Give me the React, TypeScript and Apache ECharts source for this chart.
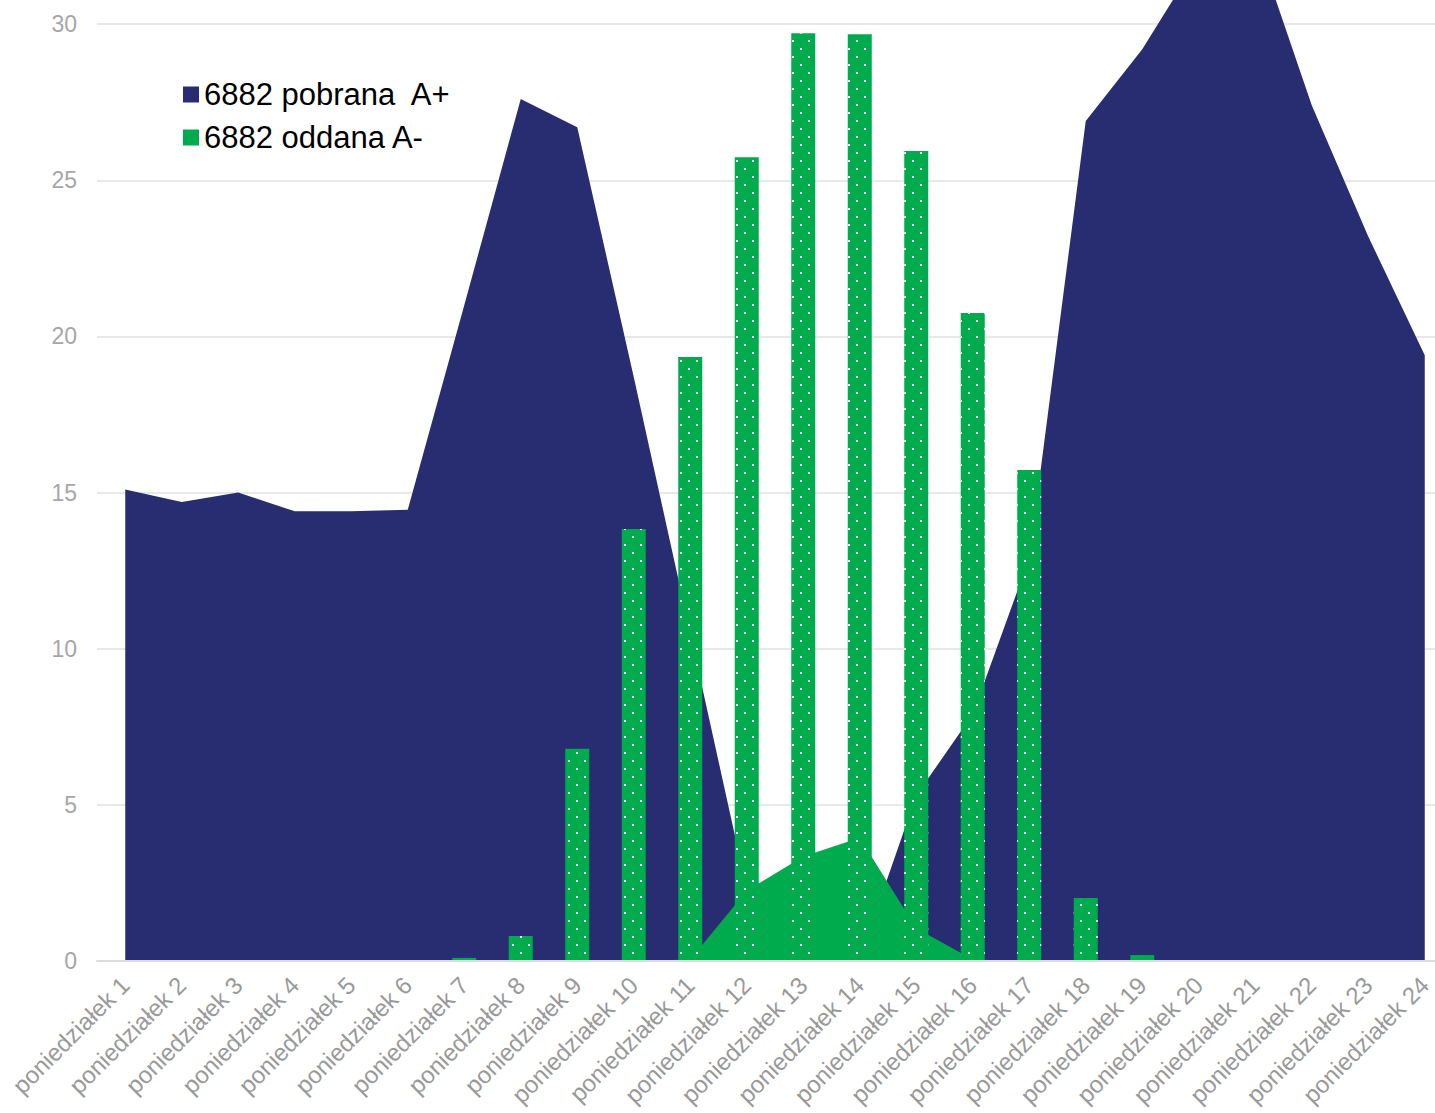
import React, { useEffect, useRef } from "react";
import * as echarts from "echarts";

// Hourly categories on the x axis
const hours = [
  "poniedziałek 1", "poniedziałek 2", "poniedziałek 3", "poniedziałek 4",
  "poniedziałek 5", "poniedziałek 6", "poniedziałek 7", "poniedziałek 8",
  "poniedziałek 9", "poniedziałek 10", "poniedziałek 11", "poniedziałek 12",
  "poniedziałek 13", "poniedziałek 14", "poniedziałek 15", "poniedziałek 16",
  "poniedziałek 17", "poniedziałek 18", "poniedziałek 19", "poniedziałek 20",
  "poniedziałek 21", "poniedziałek 22", "poniedziałek 23", "poniedziałek 24",
];

// Energy drawn from the grid (A+)
const pobrana = [
  15.1, 14.7, 15.0, 14.4, 14.4, 14.45, 21.0, 27.6, 26.7, 18.7, 10.5, 2.3,
  1.0, 0.1, 5.3, 7.9, 12.9, 26.9, 29.2, 32.1, 32.7, 27.4, 23.2, 19.4,
];

// Energy fed into the grid (A-), area form
const oddanaArea = [
  0, 0, 0, 0, 0, 0, 0, 0, 0, 0, 0.05, 2.25,
  3.35, 3.95, 1.05, 0.05, 0, 0, 0, 0, 0, 0, 0, 0,
];

// Energy fed into the grid (A-), hourly bars
const oddanaBars = [
  0, 0, 0, 0, 0, 0, 0.1, 0.8, 6.8, 13.83, 19.34, 25.74,
  29.71, 29.68, 25.94, 20.75, 15.72, 2.02, 0.19, 0.02, 0, 0, 0, 0,
];

const NAVY = "#282d72";
const GREEN = "#00ab4e";
const FONT = "'Liberation Sans', Arial, sans-serif";

export default function App() {
  const ref = useRef<HTMLDivElement | null>(null);

  useEffect(() => {
    if (!ref.current) return;
    const chart = echarts.init(ref.current, null, { renderer: "svg" });
    chart.setOption({
      animation: false,
      backgroundColor: "#ffffff",
      legend: {
        orient: "vertical",
        left: 178,
        top: 274,
        itemWidth: 16,
        itemHeight: 16,
        itemGap: 12,
        icon: "rect",
        data: ["6882 pobrana  A+", "6882 oddana A-"],
        textStyle: { color: "#000000", fontSize: 31, fontFamily: FONT },
      },
      grid: { left: 97, right: 47, top: 68, bottom: 152, containLabel: false },
      xAxis: {
        type: "category",
        data: hours,
        boundaryGap: true,
        z: 5,
        axisLine: { show: true, lineStyle: { color: "#dcdcdc", width: 2 } },
        axisTick: { show: false },
        axisLabel: {
          interval: 0,
          rotate: 45,
          margin: 20,
          color: "#999999",
          fontSize: 24,
          fontFamily: FONT,
        },
        splitLine: { show: false },
      },
      yAxis: {
        type: "value",
        min: 0,
        max: 35,
        interval: 5,
        axisLine: { show: false },
        axisTick: { show: false },
        axisLabel: {
          margin: 20,
          color: "#a6a6a6",
          fontSize: 23,
          fontFamily: FONT,
          formatter: (v: number) => (v > 30 ? "" : String(v)),
        },
        splitLine: { show: true, lineStyle: { color: "#e8e8e8", width: 2 } },
      },
      series: [
        {
          name: "6882 pobrana  A+",
          type: "line",
          z: 2,
          data: pobrana,
          showSymbol: false,
          symbol: "none",
          lineStyle: { width: 0, color: NAVY },
          itemStyle: { color: NAVY },
          areaStyle: { color: NAVY, opacity: 1 },
        },
        {
          name: "6882 oddana A-",
          type: "line",
          z: 3,
          data: oddanaArea,
          showSymbol: false,
          symbol: "none",
          lineStyle: { width: 0, color: GREEN },
          itemStyle: { color: GREEN },
          areaStyle: { color: GREEN, opacity: 1 },
        },
        {
          name: "oddana A- słupki",
          type: "bar",
          z: 4,
          data: oddanaBars,
          barWidth: 24,
          itemStyle: {
            color: GREEN,
            decal: {
              symbol: "rect",
              symbolSize: 1,
              color: "#ffffff",
              dashArrayX: [[2, 14], [0, 8, 2, 6]],
              dashArrayY: [2, 6],
              rotation: 0,
            },
          },
        },
      ],
    });
    return () => chart.dispose();
  }, []);

  return (
    <div
      style={{
        position: "fixed",
        left: 0,
        top: 0,
        width: 1435,
        height: 1113,
        overflow: "hidden",
        background: "#ffffff",
      }}
    >
      <div
        ref={ref}
        style={{ position: "absolute", left: 0, top: -200, width: 1500, height: 1313 }}
      />
    </div>
  );
}
